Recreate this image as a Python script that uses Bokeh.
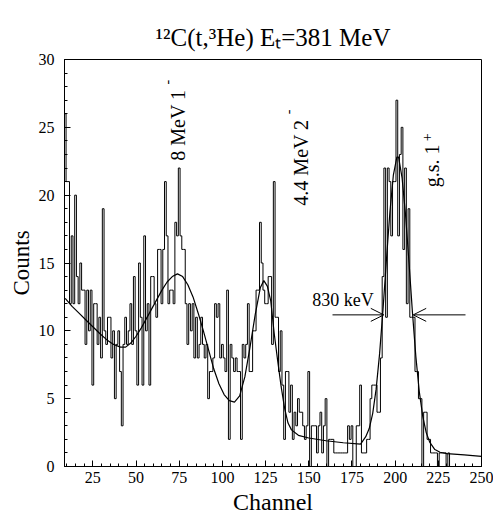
import numpy as np
from bokeh.plotting import figure
from bokeh.models import Range1d, Label, Arrow, OpenHead, SingleIntervalTicker
from bokeh.embed import file_html
from bokeh.resources import INLINE

# ---------------- data ----------------
first_channel = 9
counts = [
    26, 21, 21, 12, 17, 12, 20, 14, 12, 15, 13, 13, 9, 13, 10, 13, 6, 12, 12, 9,      # 9-28
    11, 8, 19, 10, 9, 11, 11, 8, 10, 5, 9, 10, 7, 3, 9, 11, 9, 10, 12, 9,             # 29-48
    14, 10, 6, 15, 11, 6, 17, 10, 12, 6, 14, 14, 12, 11, 16, 16, 12, 16, 21, 17,      # 49-68
    12, 13, 13, 12, 18, 17, 22, 17, 16, 16, 12, 9, 12, 10, 12, 8, 11, 8, 9, 11,       # 69-88
    9, 8, 9, 5, 7, 7, 8, 12, 11, 12, 8, 9, 8, 7, 13, 2, 9, 8, 7, 8,                   # 89-108
    7, 7, 2, 9, 8, 9, 12, 7, 7, 10, 10, 13, 13, 18, 15, 13, 12, 12, 14, 14,           # 109-128
    9, 21, 11, 11, 7, 10, 6, 2, 7, 7, 4, 6, 2, 4, 3, 5, 4, 4, 3, 2,                   # 129-148
    3, 7, 0, 3, 3, 3, 1, 3, 4, 1, 3, 5, 0, 2, 2, 2, 1, 1, 1, 1,                       # 149-168
    1, 1, 1, 1, 3, 2, 3, 0, 0, 3, 3, 6, 1, 1, 1, 2, 2, 5, 6, 6,                       # 169-188
    6, 4, 4, 8, 14, 22, 11, 22, 21, 17, 21, 21, 27, 17, 23, 25, 16, 22, 12, 19,       # 189-208
    11, 11, 11, 7, 7, 5, 5, 0, 4, 4, 2, 2, 1, 1, 1, 1, 0, 1, 1, 1,                    # 209-228
    1, 0, 1, 0, 0, 0, 0, 0, 0, 0, 0, 0,                                               # 229-240
]
channels = list(range(first_channel, first_channel + len(counts)))

fit_channel = [9, 13, 17, 21, 25, 29, 33, 37, 41, 44, 47, 50, 53, 56, 59, 62, 65, 68,
               71, 74, 77, 80, 83, 86, 89, 92, 95, 98, 101, 104, 107, 110, 113, 116,
               119, 122, 124, 126, 128, 130, 132, 134, 136, 138, 140, 144, 150, 160,
               170, 180, 183, 185, 187, 189, 191, 193, 195, 197, 199, 201, 202, 204,
               206, 208, 210, 212, 214, 216, 218, 220, 223, 226, 230, 240, 250]
fit_counts = [12.4, 11.8, 11.3, 10.8, 10.3, 9.8, 9.35, 9.0, 8.8, 8.8, 9.1, 9.6, 10.2,
              10.9, 11.6, 12.3, 13.0, 13.6, 14.0, 14.2, 14.0, 13.4, 12.5, 11.3, 10.0,
              8.6, 7.2, 6.1, 5.3, 4.85, 4.75, 5.2, 6.6, 8.8, 11.2, 13.2, 13.7, 13.3,
              12.2, 9.8, 7.8, 5.9, 4.3, 3.2, 2.7, 2.3, 2.1, 1.9, 1.75, 1.65, 2.2, 2.8,
              3.9, 5.7, 8.3, 11.6, 15.3, 18.8, 21.5, 22.8, 22.8, 21.3, 18.6, 15.1, 11.4,
              8.1, 5.5, 3.7, 2.5, 1.8, 1.25, 1.05, 0.95, 0.85, 0.75]

x_ticks_interval = 25
y_ticks_interval = 5
title_text = "\u00b9\u00b2C(t,\u00b3He) E\u209c=381 MeV"

# ---------------- geometry ----------------
W, H = 493, 517
X0, X1 = 8.6, 250.0
Y0, Y1 = 0.0, 30.0
FL, FR, FT, FB = 64, 481, 59, 467          # frame edges in px
PXC = (FR - FL) / (X1 - X0)                # px per channel
PYC = (FB - FT) / (Y1 - Y0)                # px per count

def dx(px):
    return X0 + (px - FL) / PXC

def dy(py):
    return (FB - py) / PYC

FONT = "Liberation Serif"

p = figure(width=W, height=H, output_backend="svg", toolbar_location=None,
           x_range=Range1d(X0, X1), y_range=Range1d(Y0, Y1),
           min_border_left=FL, min_border_right=W - FR,
           min_border_top=FT, min_border_bottom=H - FB)
p.background_fill_color = "white"
p.border_fill_color = "white"
p.outline_line_color = "black"
p.outline_line_width = 1
p.xgrid.visible = False
p.ygrid.visible = False

p.title.text = title_text
p.title.align = "center"
p.title.text_font = FONT
p.title.text_font_size = "25px"
p.title.text_font_style = "normal"
p.title.text_color = "black"
p.title.standoff = 18
p.title.offset = -3

p.xaxis.ticker = SingleIntervalTicker(interval=x_ticks_interval, num_minor_ticks=5)
p.yaxis.ticker = SingleIntervalTicker(interval=y_ticks_interval, num_minor_ticks=5)
for ax in (p.xaxis, p.yaxis):
    ax.axis_line_color = "black"
    ax.major_tick_line_color = "black"
    ax.minor_tick_line_color = "black"
    ax.major_tick_in = 6
    ax.major_tick_out = 0
    ax.minor_tick_in = 3
    ax.minor_tick_out = 0
    ax.major_label_text_font = FONT
    ax.major_label_text_font_size = "16px"
    ax.major_label_text_color = "black"
    ax.axis_label_text_font = FONT
    ax.axis_label_text_font_style = "normal"
    ax.axis_label_text_color = "black"
p.xaxis.major_label_standoff = 5
p.yaxis.major_label_standoff = 10
p.xaxis.axis_label = "Channel"
p.xaxis.axis_label_text_font_size = "24px"
p.xaxis.axis_label_standoff = 3
p.yaxis.axis_label = "Counts"
p.yaxis.axis_label_text_font_size = "23px"
p.yaxis.axis_label_standoff = 2

# histogram and fit
p.step(x=channels, y=counts, mode="center", line_color="black", line_width=1)
p.line(x=fit_channel, y=fit_counts, line_color="black", line_width=1.2)

def lab(text, x, y, size, angle=0.0, align="left"):
    p.add_layout(Label(x=x, y=y, text=text, text_font=FONT, text_font_size=f"{size}px",
                       text_color="black", angle=angle, text_align=align,
                       text_baseline="alphabetic"))

# rotated peak labels
lab("8 MeV 1", dx(177), dy(160.5), 20, angle=np.pi / 2)
lab("-", dx(166), dy(84), 14, angle=np.pi / 2)
lab("4.4 MeV 2", dx(300), dy(205.5), 20, angle=np.pi / 2)
lab("-", dx(287), dy(114), 14, angle=np.pi / 2)
lab("g.s. 1", dx(431), dy(187), 20, angle=np.pi / 2)
lab("+", dx(426), dy(141), 14, angle=np.pi / 2)

# FWHM marker
lab("830 keV", dx(311.7), dy(300), 18)
half_y = dy(315)
p.add_layout(Arrow(end=OpenHead(size=13, line_width=1, line_color="black"),
                   x_start=dx(332), y_start=half_y, x_end=dx(383.3), y_end=half_y,
                   line_width=1, line_color="black"))
p.add_layout(Arrow(end=OpenHead(size=13, line_width=1, line_color="black"),
                   x_start=dx(465), y_start=half_y, x_end=dx(412.7), y_end=half_y,
                   line_width=1, line_color="black"))

open("out.html", "w").write(file_html(p, INLINE))
